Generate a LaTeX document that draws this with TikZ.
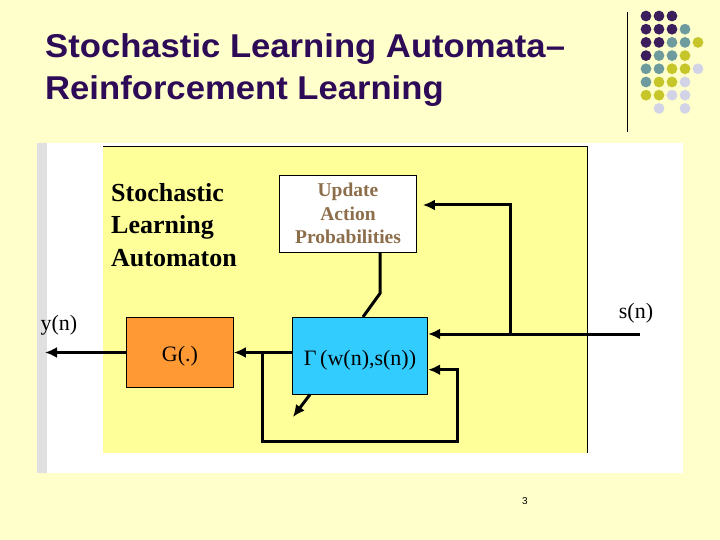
\documentclass[tikz,border=0pt]{standalone}
\usepackage{fontspec}
\setmainfont{Liberation Serif}
\newfontfamily\titlefont{Liberation Sans}
\usetikzlibrary{arrows.meta, positioning}
\definecolor{slidebg}{HTML}{FFFFCC}
\definecolor{panelyellow}{HTML}{FFFF99}
\definecolor{stripgray}{HTML}{E0E0E0}
\definecolor{titlepurple}{HTML}{2E0B57}
\definecolor{updatebrown}{HTML}{8C6E4B}
\definecolor{gorange}{HTML}{FF9933}
\definecolor{gammablue}{HTML}{33CCFF}
\definecolor{dotpurple}{HTML}{3D1E5C}
\definecolor{dotteal}{HTML}{6E9C9E}
\definecolor{dotolive}{HTML}{C6C62A}
\definecolor{dotlilac}{HTML}{D3D3E8}

\begin{document}
\begin{tikzpicture}[
    x=1pt, y=-1pt,
    >={Latex[length=12pt,width=11pt]},
    wire/.style={line width=3pt},
    block/.style={
      draw, line width=0.8pt, inner sep=0pt, align=center,
      font=\fontsize{22}{26}\selectfont
    },
    lbl/.style={inner sep=0pt, font=\fontsize{22}{26}\selectfont},
    heading/.style={
      anchor=base west, inner sep=0pt, text=titlepurple, xscale=1.05,
      font=\titlefont\bfseries\fontsize{33}{38}\selectfont
    },
    dotP/.style={fill=dotpurple},
    dotT/.style={fill=dotteal},
    dotY/.style={fill=dotolive},
    dotL/.style={fill=dotlilac},
    dotN/.style={fill=none}
  ]
  \useasboundingbox[fill=slidebg] (0,0) rectangle (720,540);

  % title and dot grid
  \node[heading] (title1) at (45,58) {Stochastic Learning Automata–};
  \node[heading] (title2) at (45,99.5) {Reinforcement Learning};
  \draw[line width=1pt] (627,12) -- (627,132);
  \foreach \row [count=\r] in {{P,P,P},{P,P,P,T},{P,P,T,T,Y},{P,T,T,Y},
                               {T,T,Y,Y,L},{T,Y,Y,L},{Y,Y,L,L},{N,L,N,L}}
    \foreach \c [count=\k] in \row
      \path[dot\c] ({646+13*(\k-1)},{16+13.2*(\r-1)}) circle (5.4);

  % picture frame
  \fill[white] (37,143) rectangle (683,473);
  \fill[stripgray] (37,143) rectangle (47,473);
  \fill[panelyellow] (103,147) rectangle (587,453);
  \draw[line width=1pt] (103,147) -- (587,147) -- (587,453);

  \node[anchor=north west, inner sep=0pt, align=left,
        font=\bfseries\fontsize{26}{32.5}\selectfont] (slaname) at (111,183)
    {Stochastic\\Learning\\Automaton};

  \node[block, fill=white, minimum width=137pt, minimum height=77pt,
        text=updatebrown, font=\bfseries\fontsize{19.5}{23.5}\selectfont] (update)
    at (348,213.5) {Update\\Action\\Probabilities};
  \node[block, fill=gorange, minimum width=107pt, minimum height=70.5pt,
        text height=23pt, text depth=5pt] (g)
    at (180,352.5) {G(.)};
  \node[block, fill=gammablue, minimum width=135.5pt, minimum height=76.7pt,
        text height=25pt, text depth=5pt] (gamma)
    at (360,355.7) {Γ\,(w(n),s(n))};

  \coordinate (sin) at (640,334);
  \coordinate (tap) at (510,334);
  \coordinate (yout) at (45,352.5);
  \coordinate (fbtap) at (262,352.5);
  \coordinate (fbturn) at (457,441);
  \coordinate (wout) at (293,417);

  \node[lbl] (slabel) at (636,313) {s(n)};
  \node[lbl] (ylabel) at (59,325) {y(n)};

  \draw[wire] ([xshift=32pt]update.south) -- ++(0,41) -- ([xshift=3pt]gamma.north);
  \draw[wire,->] (sin) -- (sin -| gamma.east);
  \draw[wire,->] (tap) |- ([xshift=6pt,yshift=8.5pt]update.east);
  \draw[wire,->] (gamma.west |- g.east) -- (g.east);
  \draw[wire,->] (fbtap) |- (fbturn) |- ([yshift=-14pt]gamma.east);
  \draw[wire,->] (g.west) -- (yout);
  \draw[wire,->] ([xshift=-50pt]gamma.south) -- (wout);

  \node[font=\titlefont\fontsize{10}{10}\selectfont] (pagenum) at (525,501) {3};
\end{tikzpicture}
\end{document}
